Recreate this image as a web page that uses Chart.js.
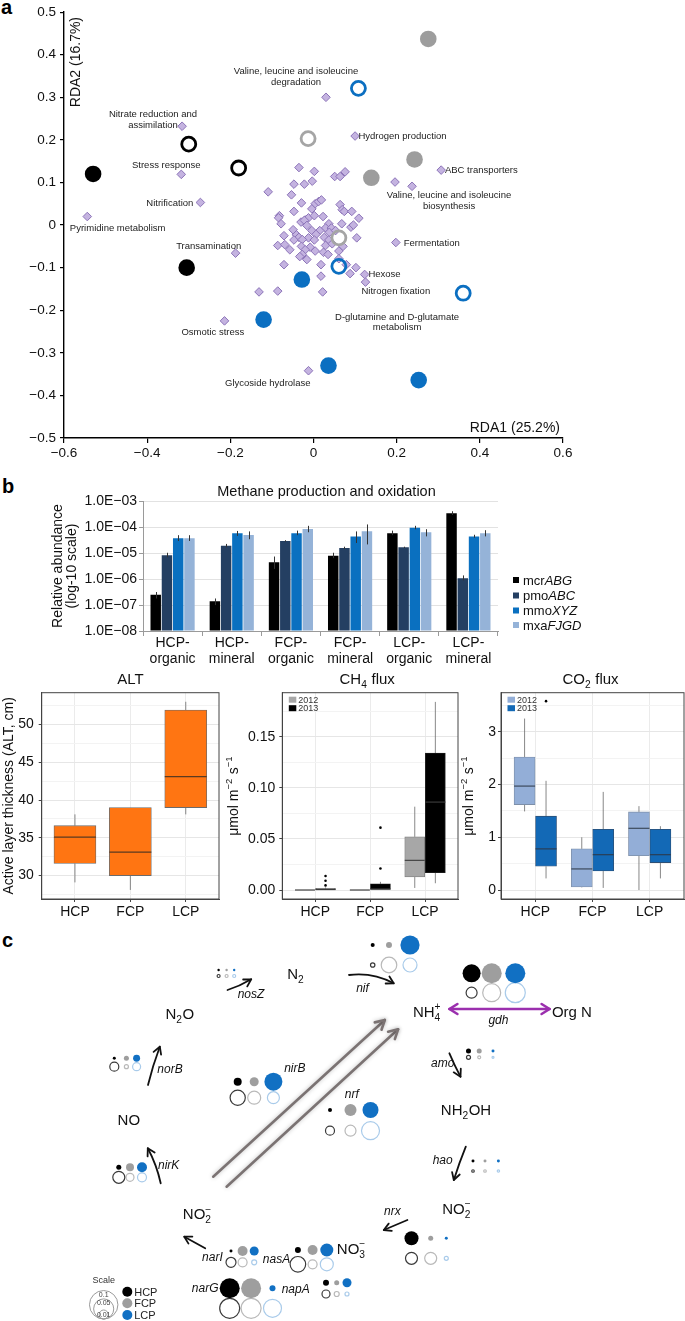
<!DOCTYPE html>
<html><head><meta charset="utf-8">
<script src="https://cdn.jsdelivr.net/npm/chart.js@4.4.1/dist/chart.umd.min.js"></script>
<style>
html,body{margin:0;padding:0;background:#fff}
body{width:685px;height:1321px;position:relative;overflow:hidden;font-family:'Liberation Sans',Arial,sans-serif}
canvas{position:absolute}
.lt{position:absolute;font-weight:bold;font-size:20px;line-height:20px;color:#000}
</style></head><body>
<div class="lt" style="left:1px;top:-3px">a</div>
<div class="lt" style="left:2px;top:476px">b</div>
<div class="lt" style="left:2px;top:930px">c</div>
<canvas id="ca" width="600" height="465" style="left:0;top:0"></canvas>
<canvas id="cb" width="685" height="200" style="left:0;top:470px"></canvas>
<canvas id="c1" width="225" height="265" style="left:0;top:660px"></canvas>
<canvas id="c2" width="237" height="265" style="left:225px;top:660px"></canvas>
<canvas id="c3" width="225" height="265" style="left:460px;top:660px"></canvas>
<canvas id="cc" width="685" height="396" style="left:0;top:925px"></canvas>
<script>
// ---------------- DATA: panel a (RDA) ----------------
const rdaXTicks = [-0.6,-0.4,-0.2,0,0.2,0.4,0.6];
const rdaYTicks = [-0.5,-0.4,-0.3,-0.2,-0.1,0,0.1,0.2,0.3,0.4,0.5];
const hcpFilled = [[-0.53,0.12],[-0.305,-0.10]];
const hcpOpen = [[-0.30,0.19],[-0.18,0.134]];
const fcpFilled = [[0.276,0.437],[0.243,0.154],[0.139,0.111]];
const fcpOpen = [[-0.013,0.203],[0.061,-0.03]];
const lcpFilled = [[-0.028,-0.128],[-0.12,-0.222],[0.036,-0.33],[0.253,-0.364]];
const lcpOpen = [[0.108,0.321],[0.061,-0.097],[0.36,-0.16]];
const functionScores = [
 [0.03,0.30],[-0.316,0.232],[0.10,0.209],[0.307,0.129],[-0.318,0.119],[0.196,0.101],[0.237,0.091],
 [-0.272,0.053],[-0.544,0.02],[-0.1875,-0.066],[0.198,-0.041],[0.123,-0.116],[0.125,-0.134],[-0.214,-0.225],[-0.012,-0.342],
 [-0.035,0.135],[0.002,0.126],[0.051,0.114],[0.064,0.114],[0.076,0.125],[-0.047,0.096],[-0.022,0.096],[-0.003,0.103],
 [-0.109,0.078],[-0.053,0.071],[-0.029,0.052],[0.004,0.050],[0.012,0.055],[0.019,0.059],[0.064,0.048],
 [-0.047,0.032],[-0.004,0.038],[0.069,0.036],[0.074,0.032],[0.092,0.032],[-0.082,0.022],[-0.084,0.017],
 [-0.020,0.012],[-0.012,0.017],[0.002,0.022],[0.023,0.020],[0.109,0.016],[-0.078,0.003],[-0.030,0.007],
 [-0.022,0.011],[-0.016,-0.001],[0.037,0.003],[0.068,0.003],[0.029,-0.007],[0.043,-0.007],[0.090,-0.005],
 [0.096,0.000],[-0.049,-0.011],[-0.004,-0.013],[0.015,-0.013],[0.038,-0.017],[0.053,-0.013],[-0.071,-0.025],
 [-0.041,-0.023],[-0.035,-0.029],[-0.012,-0.030],[0.006,-0.022],[0.026,-0.029],[0.104,-0.030],[-0.047,-0.035],
 [-0.027,-0.034],[0.002,-0.035],[0.037,-0.035],[-0.086,-0.048],[-0.069,-0.046],[-0.029,-0.050],[-0.008,-0.052],
 [0.029,-0.048],[0.045,-0.044],[0.071,-0.050],[-0.057,-0.058],[-0.020,-0.058],[0.004,-0.061],[0.061,-0.061],
 [-0.027,-0.069],[0.024,-0.064],[0.035,-0.069],[-0.033,-0.074],[-0.016,-0.081],[0.061,-0.079],[-0.071,-0.093],
 [0.018,-0.093],[0.079,-0.093],[0.102,-0.100],[0.088,-0.114],[0.018,-0.120],[-0.131,-0.157],[-0.086,-0.155],[0.022,-0.157]
];
const rdaLabelText = ['Valine, leucine and isoleucine\ndegradation','Nitrate reduction and\nassimilation','Hydrogen production',
 'Stress response','ABC transporters','Valine, leucine and isoleucine\nbiosynthesis','Nitrification','Pyrimidine metabolism',
 'Transamination','Fermentation','Hexose','Nitrogen fixation','D-glutamine and D-glutamate\nmetabolism','Osmotic stress','Glycoside hydrolase'];
const rdaLabelX = [-0.042,-0.386,0.108,-0.354,0.316,0.326,-0.289,-0.471,-0.252,0.217,0.132,0.198,0.201,-0.242,-0.110];
const rdaLabelY = [0.362,0.261,0.21,0.142,0.13,0.071,0.053,-0.005,-0.048,-0.041,-0.114,-0.155,-0.214,-0.251,-0.37];
const rdaLabelAlign = ['center','center','left','center','left','center','right','center','center','left','left','center','center','center','center'];

// ---------------- DATA: panel b (bars) ----------------
const sampleGroups = [['HCP-','organic'],['HCP-','mineral'],['FCP-','organic'],['FCP-','mineral'],['LCP-','organic'],['LCP-','mineral']];
const geneNames = ['mcr*ABG*','pmo*ABC*','mmo*XYZ*','mxa*FJGD*'];
const mcrABG = [2.5e-7,1.4e-7,4.5e-6,8.0e-6,5.9e-5,3.5e-4];
const pmoABC = [8.5e-6,1.95e-5,3.0e-5,1.6e-5,1.7e-5,1.1e-6];
const mmoXYZ = [3.8e-5,5.9e-5,5.9e-5,4.5e-5,9.8e-5,4.5e-5];
const mxaFJGD = [3.8e-5,5.1e-5,8.7e-5,7.1e-5,6.5e-5,5.9e-5];
const mcrErr = [[1.8e-7,3.2e-7],[1.0e-7,1.8e-7],[2.5e-6,7.5e-6],[6.5e-6,1.05e-5],[5.0e-5,7.5e-5],[3.0e-4,4.2e-4]];
const pmoErr = [[7.0e-6,1.05e-5],[1.7e-5,2.3e-5],[2.8e-5,3.2e-5],[1.45e-5,1.8e-5],[1.6e-5,1.8e-5],[9.0e-7,1.4e-6]];
const mmoErr = [[3.0e-5,5.0e-5],[4.7e-5,7.3e-5],[5.0e-5,7.5e-5],[2.5e-5,7.0e-5],[8.5e-5,1.15e-4],[4.0e-5,5.2e-5]];
const mxaErr = [[3.0e-5,5.0e-5],[3.5e-5,7.0e-5],[6.5e-5,1.15e-4],[2.2e-5,1.3e-4],[4.5e-5,8.5e-5],[4.5e-5,7.8e-5]];
const logTicks = [1e-8,1e-7,1e-6,1e-5,1e-4,1e-3];
const logTickLabels = ['1.0E\u221208','1.0E\u221207','1.0E\u221206','1.0E\u221205','1.0E\u221204','1.0E\u221203'];

// ---------------- DATA: panel b (boxplots) ----------------
const sites = ['HCP','FCP','LCP'];
const altQ1 = [31.6,30.0,39.0], altMed = [35.1,33.1,43.1], altQ3 = [36.6,39.0,51.9], altLo = [29.1,28.1,38.1], altHi = [38.1,39.0,53.0];
const ch4Q1_2012 = [0,0,0.0127], ch4Med_2012 = [0,0,0.029], ch4Q3_2012 = [0,0,0.052], ch4Lo_2012 = [0,0,0.002], ch4Hi_2012 = [0,0,0.0815];
const ch4Q1_2013 = [0,0,0.017], ch4Med_2013 = [0.0005,0.001,0.086], ch4Q3_2013 = [0.0015,0.006,0.134], ch4Lo_2013 = [0,0,0.0066], ch4Hi_2013 = [0.0025,0.008,0.184];
const ch4Out2013Site = [1,1,1,2,2], ch4Out2013Val = [0.0045,0.009,0.0137,0.021,0.061];
const co2Q1_2012 = [1.62,0.06,0.65], co2Med_2012 = [1.97,0.40,1.17], co2Q3_2012 = [2.52,0.78,1.48], co2Lo_2012 = [1.49,0.05,0.0], co2Hi_2012 = [3.25,1.0,1.59];
const co2Q1_2013 = [0.45,0.36,0.52], co2Med_2013 = [0.78,0.67,0.67], co2Q3_2013 = [1.40,1.15,1.15], co2Lo_2013 = [0.22,0.04,0.22], co2Hi_2013 = [2.07,1.86,1.21];
const co2Out2013Site = [1], co2Out2013Val = [3.58];
const altTicks = [30,35,40,45,50], altMinor = [27.5,32.5,37.5,42.5,47.5,52.5];
const ch4Ticks = [0,0.05,0.10,0.15], ch4Minor = [0.025,0.075,0.125,0.175];
const co2Ticks = [0,1,2,3], co2Minor = [0.5,1.5,2.5,3.5];

// ---------------- DATA: panel c (nitrogen cycle) ----------------
const cycleGenes = ['nosZ','nif','gdh','amo','hao','nrx','nasA','narI','narG','napA','nirB','nrf','norB','nirK'];
const geneColX = [[218.6,226.6,234.2],[372.7,389,410],[471.6,491.7,515.3],[468.5,479.2,493],[473,485,498.4],[411.5,430.7,446.3],
 [297.9,312.6,326.8],[231,242.6,254.2],[229.7,251.1,272.5],[326,336.7,347],[237.7,254.2,273.4],[330,350.5,370.5],[114.3,126.4,136.6],[118.8,130,142]];
const geneRowY = [[970,976],[945,965],[973.3,992.7],[1051,1057.3],[1161,1171],[1238.3,1258.3],[1250,1264.3],[1251,1262.3],
 [1288.3,1308.3],[1282.7,1294],[1081.7,1097.7],[1110,1130.7],[1058.3,1066.7],[1167.3,1177.3]];
// relative abundances (top row filled, bottom row open)
const topHCP = [0.0007,0.002,0.040,0.0031,0.0011,0.0242,0.0044,0.0011,0.0494,0.0044,0.0079,0.002,0.0011,0.0031];
const topFCP = [0.0007,0.0044,0.0494,0.0031,0.0011,0.0031,0.0123,0.0123,0.0494,0.0031,0.010,0.0178,0.0031,0.0079];
const topLCP = [0.0007,0.0455,0.0494,0.0011,0.0011,0.0011,0.0209,0.010,0.0044,0.010,0.040,0.0316,0.006,0.0123];
const botHCP = [0.0011,0.0024,0.0149,0.002,0.0008,0.0178,0.030,0.0123,0.0494,0.0079,0.0285,0.010,0.010,0.0178];
const botFCP = [0.0011,0.030,0.040,0.0011,0.0008,0.0178,0.010,0.010,0.0494,0.0031,0.0209,0.0149,0.002,0.0079];
const botLCP = [0.0011,0.0242,0.0494,0.0005,0.0007,0.002,0.0209,0.0031,0.040,0.002,0.0178,0.040,0.0079,0.010];
const geneLabelX = [251,362.5,498.4,442.7,442.7,392.3,276.5,212.4,205.2,295.7,294.8,351.8,170,168.7];
const geneLabelY = [994,988,1020,1062.7,1159.3,1211,1258.3,1256.7,1287.7,1288.7,1067.3,1094,1068.3,1164.3];
const compoundText = ['N_2','N_2O','NH_4^+','Org N','NH_2OH','NO','NO_2^{\u2212}','NO_2^{\u2212}','NO_3^{\u2212}'];
const compoundX = [295.7,179.8,427,571.9,466,128.8,456.6,197.3,351.3];
const compoundY = [974,1014,1011.7,1011.7,1109.3,1120,1208.3,1214,1248.3];
const arrowFrom = [[227.5,990],[349,975],[449.4,1053.3],[465.8,1146.7],[407.4,1220],[205.2,1248.3],[148,1085],[160.7,1183.3]];
const arrowTo = [[251.2,979.3],[393.7,983.3],[460.5,1076.7],[453.8,1180],[383.8,1230],[184.3,1236.7],[159.8,1046.7],[147.8,1148.3]];
const arrowCurve = [0.06,-0.16,0.02,0.02,0,0,-0.03,0.07];
const grayFrom = [[213.2,1176.7],[226.6,1186.7]], grayTo = [[384.8,1020],[398.1,1029.3]];
const gdhFrom = [449.4,1009], gdhTo = [549.6,1009];
const scaleValues = [0.1,0.05,0.01], scaleLabels = ['0.1','0.05','0.01'];
const scaleCenter = [103.7,1319];
const siteLegendY = [1291.7,1303.3,1315];

// ---------------- helpers ----------------
const FONT = "'Liberation Sans', Arial, Helvetica, sans-serif";
const NARROW = "'Liberation Sans Narrow', 'Liberation Sans', Arial, sans-serif";
Chart.defaults.font.family = FONT;
function richParse(s){
  const out=[]; let i=0, buf='', it=false;
  const flush=()=>{ if(buf){ out.push({k:'n',t:buf,it}); buf=''; } };
  const grab=()=>{ if(s[i]==='{'){ const j=s.indexOf('}',i); const t=s.slice(i+1,j); i=j+1; return t; } return s[i++]; };
  while(i<s.length){
    const c=s[i];
    if(c==='*'){ flush(); it=!it; i++; }
    else if(c==='_'){ flush(); i++; const sub=grab(); let sup=null; if(s[i]==='^'){ i++; sup=grab(); } out.push({k:'s',sub,sup,it}); }
    else if(c==='^'){ flush(); i++; out.push({k:'s',sub:null,sup:grab(),it}); }
    else { buf+=c; i++; }
  }
  flush(); return out;
}
function fstr(size,it,fam,bold){ return (it?'italic ':'')+(bold?'bold ':'')+size+'px '+fam; }
function drawRich(ctx,s,x,y,o){
  o=o||{}; const size=o.size||12, fam=o.family||FONT, sm=size*0.68;
  const parts=richParse(s);
  ctx.save(); ctx.fillStyle=o.color||'#000'; ctx.textBaseline='alphabetic'; ctx.textAlign='left';
  let w=0;
  for(const p of parts){
    if(p.k==='n'){ ctx.font=fstr(size,p.it||o.italic,fam,o.bold); p.w=ctx.measureText(p.t).width; }
    else { ctx.font=fstr(sm,p.it||o.italic,fam,o.bold); p.w=Math.max(p.sub?ctx.measureText(p.sub).width:0,p.sup?ctx.measureText(p.sup).width:0)+0.5; }
    w+=p.w;
  }
  ctx.translate(x,y); if(o.rotate) ctx.rotate(o.rotate);
  let cx = o.align==='left'?0:(o.align==='right'?-w:-w/2);
  const base=size*0.36;
  for(const p of parts){
    if(p.k==='n'){ ctx.font=fstr(size,p.it||o.italic,fam,o.bold); ctx.fillText(p.t,cx,base); }
    else { ctx.font=fstr(sm,p.it||o.italic,fam,o.bold);
      if(p.sub) ctx.fillText(p.sub,cx,base+size*0.27);
      if(p.sup) ctx.fillText(p.sup,cx,base-size*0.45); }
    cx+=p.w;
  }
  ctx.restore();
}
function fmtNum(v){ const r=Math.round(v*100)/100; if(r===0) return '0'; const s=String(r); return s.replace('-','\u2212'); }
const toPts = arr => arr.map(p=>({x:p[0],y:p[1]}));
const baseOpts = {responsive:false, animation:false, events:[], plugins:{legend:{display:false}, tooltip:{enabled:false}, title:{display:false}}};

// ---------------- panel a ----------------
new Chart(document.getElementById('ca'), {
  type:'scatter',
  data:{datasets:[
    {data:toPts(hcpFilled), pointRadius:8.3, backgroundColor:'#000', borderWidth:0},
    {data:toPts(fcpFilled), pointRadius:8.3, backgroundColor:'#9d9d9d', borderWidth:0},
    {data:toPts(lcpFilled), pointRadius:8.3, backgroundColor:'#0b6fc1', borderWidth:0},
    {data:toPts(hcpOpen), pointRadius:7, backgroundColor:'rgba(0,0,0,0)', borderColor:'#000', borderWidth:2.8},
    {data:toPts(fcpOpen), pointRadius:7, backgroundColor:'rgba(0,0,0,0)', borderColor:'#a5a5a5', borderWidth:2.8},
    {data:toPts(lcpOpen), pointRadius:7, backgroundColor:'rgba(0,0,0,0)', borderColor:'#0b6fc1', borderWidth:2.8},
    {data:toPts(functionScores), pointStyle:'rectRot', pointRadius:4.3, backgroundColor:'#c4b3e0', borderColor:'#8c74b8', borderWidth:1}
  ]},
  options:Object.assign({}, baseOpts, {
    layout:{padding:{top:11,right:37,left:0,bottom:0}, autoPadding:false},
    scales:{
      x:{type:'linear', min:-0.6, max:0.6,
        afterBuildTicks:s=>{ s.ticks=rdaXTicks.map(v=>({value:v})); },
        ticks:{callback:v=>fmtNum(v), font:{size:13.5}, color:'#111', padding:2, maxRotation:0, autoSkip:false},
        grid:{drawOnChartArea:false, tickLength:5, color:'#000', lineWidth:1.2},
        border:{color:'#000', width:1.4},
        afterFit:s=>{ s.height=27; }},
      y:{type:'linear', min:-0.5, max:0.5,
        afterBuildTicks:s=>{ s.ticks=rdaYTicks.map(v=>({value:v})); },
        ticks:{callback:v=>fmtNum(v), font:{size:13.5}, color:'#111', padding:4, autoSkip:false},
        grid:{drawOnChartArea:false, tickLength:4, color:'#000', lineWidth:1.2},
        border:{color:'#000', width:1.4},
        afterFit:s=>{ s.width=64; }}
    }}),
  plugins:[{id:'rdaText', afterDatasetsDraw(chart){
    const ctx=chart.ctx, xs=chart.scales.x, ys=chart.scales.y;
    rdaLabelText.forEach((t,i)=>{
      t.split('\n').forEach((ln,j)=>drawRich(ctx,ln,xs.getPixelForValue(rdaLabelX[i]),ys.getPixelForValue(rdaLabelY[i])+j*10.5,{size:9.5,family:NARROW,align:rdaLabelAlign[i],color:'#222'}));
    });
    drawRich(ctx,'RDA1 (25.2%)',xs.right-3,ys.bottom-11.5,{size:14,align:'right',color:'#111'});
    drawRich(ctx,'RDA2 (16.7%)',xs.left+11,ys.top+50,{size:14,rotate:-Math.PI/2,color:'#111'});
  }}]
});

// ---------------- panel b bars ----------------
const barSeries = [mcrABG,pmoABC,mmoXYZ,mxaFJGD];
const barErr = [mcrErr,pmoErr,mmoErr,mxaErr];
const barColors = ['#000000','#243f62','#0a70c0','#95b3d8'];
new Chart(document.getElementById('cb'), {
  type:'bar',
  data:{labels:sampleGroups, datasets:barSeries.map((d,i)=>({label:geneNames[i], data:d, backgroundColor:barColors[i], base:1e-8, barPercentage:0.93, categoryPercentage:0.76}))},
  options:Object.assign({}, baseOpts, {
    layout:{padding:{top:31.5,right:187,left:0,bottom:0}, autoPadding:false},
    scales:{
      x:{ticks:{font:{size:14,lineHeight:1.08}, color:'#111', padding:0, maxRotation:0, autoSkip:false},
        grid:{drawOnChartArea:false, tickLength:5, color:'#9a9a9a', offset:true},
        border:{color:'#9a9a9a'}, afterFit:s=>{ s.height=39; }},
      y:{type:'logarithmic', min:1e-8, max:1e-3,
        afterBuildTicks:s=>{ s.ticks=logTicks.map(v=>({value:v})); },
        ticks:{callback:(v,i)=>logTickLabels[i], font:{size:14}, color:'#111', padding:2, autoSkip:false},
        grid:{color:'#e2e2e2', tickColor:'#9a9a9a', tickLength:4},
        border:{color:'#9a9a9a'}, afterFit:s=>{ s.width=143; }}
    }}),
  plugins:[{id:'errs', afterDatasetsDraw(chart){
    const ctx=chart.ctx, ys=chart.scales.y, ca=chart.chartArea;
    ctx.save(); ctx.strokeStyle='#333'; ctx.lineWidth=1;
    barErr.forEach((err,di)=>{ chart.getDatasetMeta(di).data.forEach((bar,i)=>{
      const x=Math.round(bar.x)+0.5; ctx.beginPath(); ctx.moveTo(x,ys.getPixelForValue(err[i][0])); ctx.lineTo(x,ys.getPixelForValue(err[i][1])); ctx.stroke(); }); });
    ctx.restore();
    drawRich(ctx,'Methane production and oxidation',(ca.left+ca.right)/2+6,21,{size:14.5,color:'#111'});
    drawRich(ctx,'Relative abundance',57,96,{size:14,rotate:-Math.PI/2,color:'#111'});
    drawRich(ctx,'(log-10 scale)',71,96,{size:14,rotate:-Math.PI/2,color:'#111'});
    const ly=[110,125.5,140.5,155];
    geneNames.forEach((g,i)=>{ ctx.fillStyle=barColors[i]; ctx.fillRect(513,ly[i]-3,6,6); drawRich(ctx,g,523,ly[i],{size:13,align:'left',color:'#111'}); });
  }}]
});

// ---------------- panel b boxplots ----------------
function makeBox(id,s){
  const datasets = s.groups.map(g=>({type:'bar', data:sites.map((_,i)=>({x:i+1+g.off, y:[g.q1[i],g.q3[i]]})),
    backgroundColor:g.color, borderColor:g.border, borderWidth:0.8, borderSkipped:false, barThickness:s.thick, grouped:false}));
  if(s.outSite) datasets.unshift({type:'scatter', data:s.outSite.map((k,i)=>({x:k+s.outOff, y:s.outVal[i]})), pointRadius:1.3, backgroundColor:'#000', borderWidth:0});
  const all = s.major.concat(s.minor).sort((a,b)=>a-b);
  const isMajor = v => s.major.some(m=>Math.abs(m-v)<1e-9);
  new Chart(document.getElementById(id), {
    type:'bar', data:{datasets},
    options:Object.assign({}, baseOpts, {
      layout:{padding:{top:32.7,right:s.padRight,left:0,bottom:0}, autoPadding:false},
      scales:{
        x:{type:'linear', min:0.4, max:3.6, offset:false, afterBuildTicks:sc=>{ sc.ticks=[1,2,3].map(v=>({value:v})); },
          ticks:{callback:v=>sites[Math.round(v)-1], font:{size:14}, color:'#111', padding:2, autoSkip:false, maxRotation:0},
          grid:{color:'#ebebeb', tickColor:'#444', tickLength:3, offset:false}, border:{color:'#444'}, afterFit:sc=>{ sc.height=26; }},
        y:{type:'linear', min:s.yMin, max:s.yMax, afterBuildTicks:sc=>{ sc.ticks=all.map(v=>({value:v})); },
          ticks:{callback:v=>isMajor(v)?s.fmt(v):'', font:{size:14}, color:'#111', padding:s.tpad, autoSkip:false},
          grid:{color:c=>(c.tick&&isMajor(c.tick.value))?'#e6e6e6':'#f3f3f3', tickColor:c=>(c.tick&&isMajor(c.tick.value))?'#444':'rgba(0,0,0,0)', tickLength:3},
          border:{color:'#444'}, afterFit:sc=>{ sc.width=s.leftW; }}
      }}),
    plugins:[{id:'box'+id,
      beforeDatasetsDraw(chart){
        const ctx=chart.ctx, xs=chart.scales.x, ys=chart.scales.y;
        ctx.save(); ctx.strokeStyle='#6a6a6a'; ctx.lineWidth=0.8;
        s.groups.forEach(g=>sites.forEach((_,i)=>{ const x=xs.getPixelForValue(i+1+g.off);
          ctx.beginPath(); ctx.moveTo(x,ys.getPixelForValue(g.lo[i])); ctx.lineTo(x,ys.getPixelForValue(g.q1[i]));
          ctx.moveTo(x,ys.getPixelForValue(g.q3[i])); ctx.lineTo(x,ys.getPixelForValue(g.hi[i])); ctx.stroke(); }));
        ctx.restore();
      },
      afterDatasetsDraw(chart){
        const ctx=chart.ctx, xs=chart.scales.x, ys=chart.scales.y, ca=chart.chartArea;
        ctx.save();
        s.groups.forEach(g=>sites.forEach((_,i)=>{ const x=xs.getPixelForValue(i+1+g.off), y=ys.getPixelForValue(g.med[i]);
          ctx.strokeStyle=g.medColor; ctx.lineWidth=1.2; ctx.beginPath(); ctx.moveTo(x-s.thick/2,y); ctx.lineTo(x+s.thick/2,y); ctx.stroke(); }));
        ctx.strokeStyle='#444'; ctx.lineWidth=1; ctx.strokeRect(ca.left,ca.top,ca.right-ca.left,ca.bottom-ca.top);
        ctx.restore();
        drawRich(ctx,s.title,(ca.left+ca.right)/2+s.titleDx,19,{size:15,color:'#111'});
        drawRich(ctx,s.ytitle,s.ytx,(ca.top+ca.bottom)/2,{size:14,rotate:-Math.PI/2,color:'#111'});
        if(s.legend){ s.legend.forEach((L,i)=>{ const ly=ca.top+7+i*8.5; ctx.fillStyle=L.color; ctx.fillRect(ca.left+6.5,ly-3,7.5,6);
          drawRich(ctx,L.text,ca.left+16,ly,{size:9,align:'left',color:'#333'}); }); }
      }}]
  });
}
const dodge = 0.1875;
makeBox('c1',{groups:[{off:0,q1:altQ1,med:altMed,q3:altQ3,lo:altLo,hi:altHi,color:'#ff7512',border:'#6b6b6b',medColor:'#5a3a20'}],
  yMin:26.9, yMax:54.2, major:altTicks, minor:altMinor, fmt:v=>String(v), thick:42, leftW:41.7, padRight:6, tpad:5,
  title:'ALT', titleDx:0, ytitle:'Active layer thickness (ALT, cm)', ytx:8});
makeBox('c2',{groups:[
   {off:-dodge,q1:ch4Q1_2012,med:ch4Med_2012,q3:ch4Q3_2012,lo:ch4Lo_2012,hi:ch4Hi_2012,color:'#a7a7a7',border:'#7a7a7a',medColor:'#444'},
   {off:dodge,q1:ch4Q1_2013,med:ch4Med_2013,q3:ch4Q3_2013,lo:ch4Lo_2013,hi:ch4Hi_2013,color:'#000',border:'#222',medColor:'#3a3a3a'}],
  outSite:ch4Out2013Site, outVal:ch4Out2013Val, outOff:dodge,
  yMin:-0.0088, yMax:0.193, major:ch4Ticks, minor:ch4Minor, fmt:v=>v.toFixed(2), thick:20, leftW:57.3, padRight:4, tpad:4,
  title:'CH_4 flux', titleDx:-3, ytitle:'\u03bcmol m^{\u22122} s^{\u22121}', ytx:8,
  legend:[{color:'#a7a7a7',text:'2012'},{color:'#000',text:'2013'}]});
makeBox('c3',{groups:[
   {off:-dodge,q1:co2Q1_2012,med:co2Med_2012,q3:co2Q3_2012,lo:co2Lo_2012,hi:co2Hi_2012,color:'#93aed7',border:'#7d8fa8',medColor:'#3c4a5c'},
   {off:dodge,q1:co2Q1_2013,med:co2Med_2013,q3:co2Q3_2013,lo:co2Lo_2013,hi:co2Hi_2013,color:'#1369b6',border:'#2d4f75',medColor:'#2a3e55'}],
  outSite:co2Out2013Site, outVal:co2Out2013Val, outOff:dodge,
  yMin:-0.17, yMax:3.74, major:co2Ticks, minor:co2Minor, fmt:v=>String(v), thick:21, leftW:41, padRight:1, tpad:2,
  title:'CO_2 flux', titleDx:-2, ytitle:'\u03bcmol m^{\u22122} s^{\u22121}', ytx:8,
  legend:[{color:'#93aed7',text:'2012'},{color:'#1369b6',text:'2013'}]});

// ---------------- panel c ----------------
const rad = v => 45*Math.sqrt(v);
function bubbles(vals,col,row){ return cycleGenes.map((g,i)=>({x:geneColX[i][col], y:geneRowY[i][row], r:rad(vals[i])})); }
function arrowLine(ctx,a,b,o){
  const [x1,y1]=a,[x2,y2]=b; const dx=x2-x1, dy=y2-y1, L=Math.hypot(dx,dy); const nx=-dy/L, ny=dx/L;
  const c=o.curve||0; const cx=(x1+x2)/2+nx*c*L, cy=(y1+y2)/2+ny*c*L;
  ctx.save(); ctx.strokeStyle=o.color; ctx.lineWidth=o.width; ctx.lineCap='round'; ctx.lineJoin='round';
  if(o.shadow){ ctx.shadowColor='rgba(0,0,0,0.25)'; ctx.shadowBlur=4; }
  ctx.beginPath(); ctx.moveTo(x1,y1); ctx.quadraticCurveTo(cx,cy,x2,y2); ctx.stroke();
  const head=(tx,ty,fx,fy)=>{ const ux=tx-fx, uy=ty-fy, l=Math.hypot(ux,uy); const u=[ux/l,uy/l]; const h=o.head, w=o.hw;
    ctx.beginPath(); ctx.moveTo(tx-u[0]*h-u[1]*w, ty-u[1]*h+u[0]*w); ctx.lineTo(tx,ty); ctx.lineTo(tx-u[0]*h+u[1]*w, ty-u[1]*h-u[0]*w); ctx.stroke(); };
  head(x2,y2,cx,cy); if(o.double) head(x1,y1,cx,cy);
  ctx.restore();
}
new Chart(document.getElementById('cc'), {
  type:'bubble',
  data:{datasets:[
    {data:bubbles(topHCP,0,0), backgroundColor:'#000', borderWidth:0},
    {data:bubbles(topFCP,1,0), backgroundColor:'#9e9e9e', borderWidth:0},
    {data:bubbles(topLCP,2,0), backgroundColor:'#1170c3', borderWidth:0},
    {data:bubbles(botHCP,0,1), backgroundColor:'rgba(0,0,0,0)', borderColor:'#3a3a3a', borderWidth:1.2},
    {data:bubbles(botFCP,1,1), backgroundColor:'rgba(0,0,0,0)', borderColor:'#b9b9b9', borderWidth:1.2},
    {data:bubbles(botLCP,2,1), backgroundColor:'rgba(0,0,0,0)', borderColor:'#a9cbea', borderWidth:1.2}
  ]},
  options:Object.assign({}, baseOpts, {
    layout:{padding:0, autoPadding:false},
    scales:{x:{type:'linear',min:0,max:685,display:false}, y:{type:'linear',min:925,max:1321,reverse:true,display:false}}}),
  plugins:[{id:'cycle',
    beforeDatasetsDraw(chart){
      const ctx=chart.ctx, xs=chart.scales.x, ys=chart.scales.y; const P=p=>[xs.getPixelForValue(p[0]),ys.getPixelForValue(p[1])];
      grayFrom.forEach((f,i)=>arrowLine(ctx,P(f),P(grayTo[i]),{color:'#7b7373',width:2.6,head:9,hw:5,shadow:true}));
      arrowFrom.forEach((f,i)=>arrowLine(ctx,P(f),P(arrowTo[i]),{color:'#111',width:1.8,head:7,hw:4,curve:arrowCurve[i]}));
      arrowLine(ctx,P(gdhFrom),P(gdhTo),{color:'#9b2fae',width:2.6,head:8,hw:5,double:true});
    },
    afterDatasetsDraw(chart){
      const ctx=chart.ctx, xs=chart.scales.x, ys=chart.scales.y;
      compoundText.forEach((t,i)=>drawRich(ctx,t,xs.getPixelForValue(compoundX[i]),ys.getPixelForValue(compoundY[i]),{size:15,color:'#111'}));
      cycleGenes.forEach((g,i)=>drawRich(ctx,g,xs.getPixelForValue(geneLabelX[i]),ys.getPixelForValue(geneLabelY[i]),{size:12,italic:true,color:'#111'}));
      const sx=xs.getPixelForValue(scaleCenter[0]), sb=ys.getPixelForValue(scaleCenter[1]);
      ctx.save(); ctx.strokeStyle='#9a9a9a'; ctx.lineWidth=1;
      scaleValues.forEach(v=>{ const r=rad(v); ctx.beginPath(); ctx.arc(sx,sb-r,r,0,Math.PI*2); ctx.stroke(); });
      ctx.restore();
      scaleValues.forEach((v,i)=>drawRich(ctx,scaleLabels[i],sx,sb-2*rad(v)+4,{size:7,color:'#444'}));
      drawRich(ctx,'Scale',sx,sb-39,{size:9,color:'#333'});
      const cols=['#000','#9e9e9e','#1170c3'];
      sites.forEach((s,i)=>{ const y=ys.getPixelForValue(siteLegendY[i]); ctx.fillStyle=cols[i]; ctx.beginPath(); ctx.arc(sx+23.6,y,5,0,Math.PI*2); ctx.fill();
        drawRich(ctx,s,sx+30.5,y,{size:11,align:'left',color:'#222'}); });
    }}]
});
</script>
</body></html>
